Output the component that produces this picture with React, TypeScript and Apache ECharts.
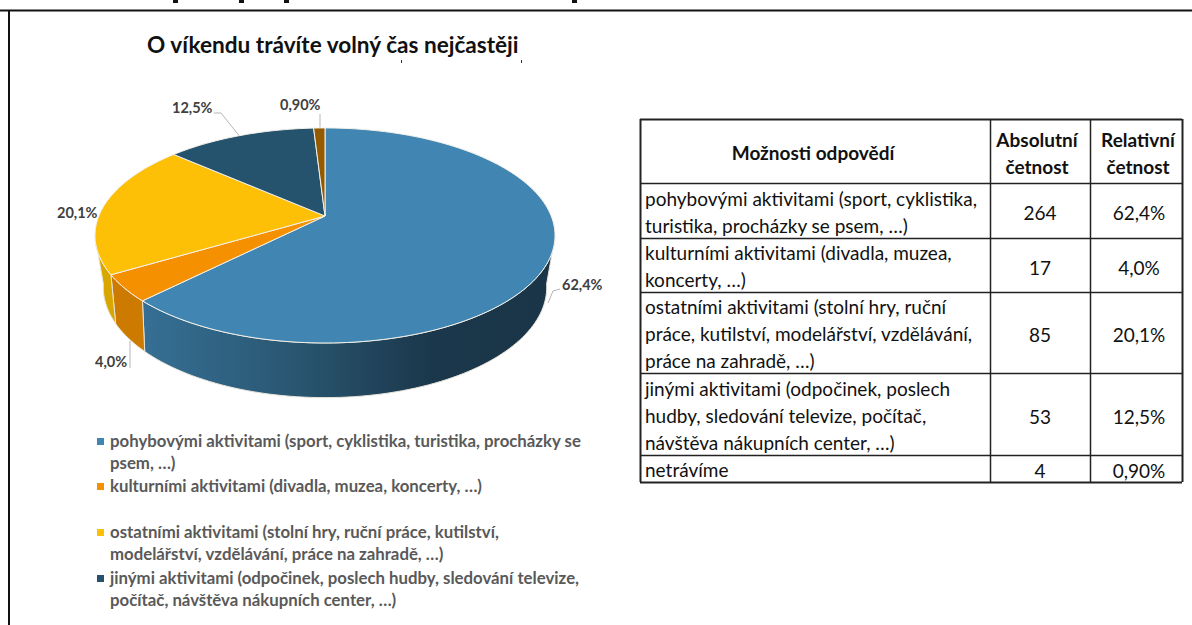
import React, { useEffect, useRef } from "react";
import * as echarts from "echarts";

const categories = [
  "pohybovými aktivitami",
  "kulturními aktivitami",
  "ostatními aktivitami",
  "jinými aktivitami",
  "netrávíme",
];
const absoluteCounts = [264, 17, 85, 53, 4];
const relativeLabels = ["62,4%", "4,0%", "20,1%", "12,5%", "0,90%"];
const topColors = ["#4186b2", "#f59100", "#fdc007", "#25536d", "#935a00"];
const wallColors = ["#2f5f80", "#cc7a00", "#d9a600", "#1b3a4d", "#6e4300"];

const tableHead = [["Možnosti odpovědí"], ["Absolutní", "četnost"], ["Relativní", "četnost"]];
const tableText = [
  ["pohybovými aktivitami (sport, cyklistika,", "turistika, procházky se psem, …)"],
  ["kulturními aktivitami (divadla, muzea,", "koncerty, …)"],
  ["ostatními aktivitami (stolní hry, ruční", "práce, kutilství, modelářství, vzdělávání,", "práce na zahradě, …)"],
  ["jinými aktivitami (odpočinek, poslech", "hudby, sledování televize, počítač,", "návštěva nákupních center, …)"],
  ["netrávíme"],
];
const legendLines = [
  ["pohybovými aktivitami (sport, cyklistika, turistika, procházky se", "psem, …)"],
  ["kulturními aktivitami (divadla, muzea, koncerty, …)"],
  ["ostatními aktivitami (stolní hry, ruční práce, kutilství,", "modelářství, vzdělávání, práce na zahradě, …)"],
  ["jinými aktivitami (odpočinek, poslech hudby, sledování televize,", "počítač, návštěva nákupních center, …)"],
];

const FONT = "Lato";
const total = absoluteCounts.reduce((a, b) => a + b, 0);

// perspective model of the pie disc
const topDisc = { ax: 325, ay: 216, R: 226.2, h: 104, k: 0.181 };
const botDisc = { ax: 325, ay: 263, R: 216.3, h: 105, k: 0.22 };
const project = (d: typeof topDisc, deg: number) => {
  const t = (deg * Math.PI) / 180;
  const X = Math.sin(t);
  const Y = -Math.cos(t);
  const w = 1 - d.k * Y;
  return [d.ax + (d.R * X) / w, d.ay + (d.h * Y) / w];
};
const arc = (d: typeof topDisc, a: number, b: number) => {
  const n = Math.max(2, Math.ceil(Math.abs(b - a) / 1.5));
  const pts: number[][] = [];
  for (let i = 0; i <= n; i++) pts.push(project(d, a + ((b - a) * i) / n));
  return pts;
};
const angleRange = (i: number) => {
  let s = 0;
  for (let j = 0; j < i; j++) s += absoluteCounts[j];
  return [(s / total) * 360, ((s + absoluteCounts[i]) / total) * 360];
};

const WALL_FROM = 101;
const WALL_TO = 259;

const renderWall = (params: any) => {
  const [a0, b0] = angleRange(params.dataIndex);
  const a = Math.max(a0, WALL_FROM);
  const b = Math.min(b0, WALL_TO);
  if (b <= a) return { type: "group", children: [] };
  const pts = arc(topDisc, a, b).concat(arc(botDisc, b, a));
  const fill =
    params.dataIndex === 0
      ? new echarts.graphic.LinearGradient(0, 0, 1, 0, [
          { offset: 0, color: "#366f95" },
          { offset: 0.35, color: "#2a5873" },
          { offset: 0.7, color: "#1b374b" },
          { offset: 1, color: "#1a3547" },
        ])
      : wallColors[params.dataIndex];
  return {
    type: "polygon",
    shape: { points: pts },
    style: { fill, stroke: "#e8e4da", lineWidth: 1 },
  };
};

const renderTop = (params: any) => {
  const [a, b] = angleRange(params.dataIndex);
  const pts = [[topDisc.ax, topDisc.ay]].concat(arc(topDisc, a, b));
  return {
    type: "polygon",
    shape: { points: pts },
    style: { fill: topColors[params.dataIndex], stroke: "#f4f1ea", lineWidth: 1 },
  };
};

// layout of the table
const colX = [640, 990, 1090, 1182];
const rowY = [119, 183, 238, 292, 373, 455, 482];
const TLINE = 27;

function buildGraphics() {
  const g: any[] = [];
  const text = (t: string, x: number, y: number, o: any = {}) =>
    g.push({
      type: "text",
      x,
      y,
      silent: true,
      style: {
        text: t,
        fontFamily: FONT,
        fontSize: 19,
        fill: "#111",
        textAlign: "left",
        textVerticalAlign: "middle",
        ...o,
      },
    });
  const line = (x1: number, y1: number, x2: number, y2: number, stroke = "#111", lineWidth = 1) =>
    g.push({ type: "line", silent: true, shape: { x1, y1, x2, y2 }, style: { stroke, lineWidth } });

  // page frame and clipped heading remnants
  line(0, 10.5, 1192, 10.5, "#111", 2);
  line(9, 10, 9, 625, "#111", 2);
  line(401.5, 60, 401.5, 63, "#333", 1);
  line(521.5, 60, 521.5, 63, "#333", 1);
  [173, 239, 284, 572].forEach((x) =>
    g.push({ type: "rect", silent: true, shape: { x, y: 0, width: 5, height: 3 }, style: { fill: "#111" } })
  );

  // table
  rowY.forEach((y, i) => line(colX[0], y + 0.5, colX[3], y + 0.5, "#222", i === 0 || i === 6 ? 2 : 1.5));
  colX.forEach((x, i) => line(x + 0.5, rowY[0], x + 0.5, rowY[6], "#222", i === 0 || i === 3 ? 2 : 1.5));

  const headStyle = { textAlign: "center", fontWeight: "bold", fontSize: 19 };
  text(tableHead[0][0], 813, 152, headStyle);
  tableHead[1].forEach((t, i) => text(t, 1037, 139 + i * 27, headStyle));
  tableHead[2].forEach((t, i) => text(t, 1138, 139 + i * 27, headStyle));

  tableText.forEach((lines, r) => {
    const mid = (rowY[r + 2] + rowY[r + 1]) / 2 + 1;
    lines.forEach((t, i) => text(t, 645, mid + (i - (lines.length - 1) / 2) * TLINE, { fontSize: 19 }));
    text(String(absoluteCounts[r]), 1040, mid + 1, { textAlign: "center" });
    text(relativeLabels[r], 1139, mid + 1, { textAlign: "center" });
  });

  // legend
  const legendY = [440, 485, 531, 577];
  legendLines.forEach((lines, r) => {
    g.push({
      type: "rect",
      silent: true,
      shape: { x: 97, y: legendY[r] - 2, width: 7, height: 7 },
      style: { fill: topColors[r] },
    });
    lines.forEach((t, i) =>
      text(t, 110, legendY[r] + i * 22, { fontSize: 16.8, fontWeight: "bold", fill: "#595959" })
    );
  });

  // data labels with leader lines
  const labelStyle = { fontSize: 14.5, fontWeight: "bold", fill: "#404040" };
  text(relativeLabels[0], 562, 284, labelStyle);
  text(relativeLabels[1], 95, 361, labelStyle);
  text(relativeLabels[2], 57, 212, labelStyle);
  text(relativeLabels[3], 172, 107, labelStyle);
  text(relativeLabels[4], 280, 104, labelStyle);
  g.push(
    { type: "polyline", silent: true, shape: { points: [[560, 289], [553, 291], [548, 303]] }, style: { stroke: "#b5b5b5", fill: "none" } },
    { type: "polyline", silent: true, shape: { points: [[130, 368], [130, 341]] }, style: { stroke: "#b5b5b5", fill: "none" } },
    { type: "polyline", silent: true, shape: { points: [[214, 113], [221, 113], [241, 138]] }, style: { stroke: "#b5b5b5", fill: "none" } },
    { type: "polyline", silent: true, shape: { points: [[320, 114], [320, 128]] }, style: { stroke: "#b5b5b5", fill: "none" } }
  );
  return g;
}

export default function App() {
  const ref = useRef<HTMLDivElement>(null);
  useEffect(() => {
    const chart = echarts.init(ref.current!, undefined, { renderer: "svg" });
    chart.setOption({
      animation: false,
      backgroundColor: "#ffffff",
      title: {
        text: "O víkendu trávíte volný čas nejčastěji",
        left: 142,
        top: 28,
        textStyle: { fontFamily: FONT, fontSize: 22.6, fontWeight: "bold", color: "#111" },
      },
      series: [
        {
          type: "custom",
          name: "walls",
          coordinateSystem: "none",
          silent: true,
          z: 1,
          data: categories.map((name, i) => ({ name, value: absoluteCounts[i] })),
          renderItem: renderWall,
        },
        {
          type: "custom",
          name: "tops",
          coordinateSystem: "none",
          silent: true,
          z: 2,
          data: categories.map((name, i) => ({ name, value: absoluteCounts[i] })),
          renderItem: renderTop,
        },
      ],
      graphic: { elements: buildGraphics() },
    });
    return () => chart.dispose();
  }, []);
  return <div ref={ref} style={{ position: "absolute", left: 0, top: 0, width: 1192, height: 625 }} />;
}
